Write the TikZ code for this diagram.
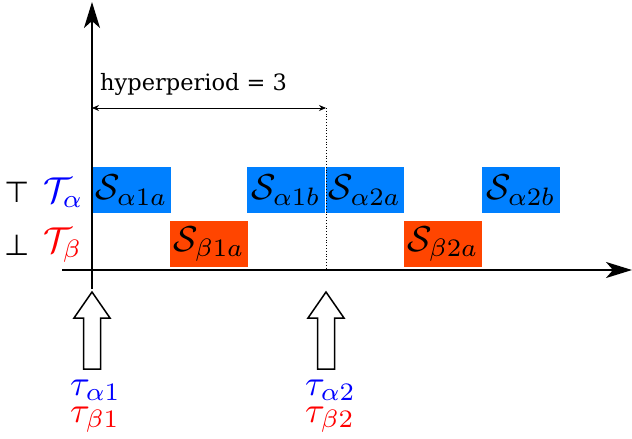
\documentclass[tikz,border=0pt]{standalone}
\usepackage{graphicx}
\usepackage{fontspec}
\newfontfamily\hpfont{DejaVu Serif}
\newfontfamily\symfont{DejaVu Sans}
\usetikzlibrary{arrows.meta}
\definecolor{boxblue}{RGB}{0,128,255}
\definecolor{boxred}{RGB}{255,69,0}
\definecolor{txtblue}{RGB}{0,0,255}
\definecolor{txtred}{RGB}{255,0,0}
\newcommand{\schedmath}[1]{\scalebox{3.6}{$#1$}}
\tikzset{
  slotbox/.style={minimum width=78pt, minimum height=46pt, inner sep=0pt, anchor=center},
  alphabox/.style={slotbox, fill=boxblue},
  betabox/.style={slotbox, fill=boxred},
  axisline/.style={line width=2pt, -{Stealth[length=26pt,width=16pt,inset=7pt]}},
  hollowarrow/.style={draw, line width=1.5pt, fill=white, line join=miter},
  mathlabel/.style={inner sep=0pt, anchor=base west},
  symlabel/.style={inner sep=0pt, anchor=base west, font=\symfont\fontsize{29}{32}\selectfont},
}
\begin{document}
\begin{tikzpicture}[x=1pt,y=-1pt]
\useasboundingbox (0,0) rectangle (632,439);
% boxes
\node[alphabox] (a1a) at (131.5,190) {\schedmath{\mathcal{S}_{\alpha 1a}}};
\node[alphabox] (a1b) at (286,190) {\schedmath{\mathcal{S}_{\alpha 1b}}};
\node[alphabox] (a2a) at (365,190) {\schedmath{\mathcal{S}_{\alpha 2a}}};
\node[alphabox] (a2b) at (521,190) {\schedmath{\mathcal{S}_{\alpha 2b}}};
\node[betabox] (b1a) at (209,244) {\schedmath{\mathcal{S}_{\beta 1a}}};
\node[betabox] (b2a) at (443,244) {\schedmath{\mathcal{S}_{\beta 2a}}};
% axes
\coordinate (ybot) at (92,289);
\coordinate (ytop) at (92,2);
\coordinate (xleft) at (62,270);
\coordinate (xright) at (632,270);
\draw[axisline] (ybot) -- (ytop);
\draw[axisline] (xleft) -- (xright);
% hyperperiod
\coordinate (hpl) at (92,108);
\coordinate (hpr) at (326,108);
\coordinate (hpb) at (326,270);
\draw[line width=0.8pt, {Stealth[length=7pt,width=6pt]}-{Stealth[length=7pt,width=6pt]}] (hpl) -- (hpr);
\draw[dotted, line width=0.8pt] (hpr) -- (hpb);
\node[inner sep=0pt, anchor=base west, font=\hpfont\fontsize{22.5}{26}\selectfont] (hp) at (100,90) {hyperperiod = 3};
% left labels
\node[symlabel] (top) at (4,202) {⊤};
\node[symlabel] (bot) at (4,255) {⊥};
\node[mathlabel, text=txtblue] (Ta) at (43,202) {\schedmath{\mathcal{T}_{\alpha}}};
\node[mathlabel, text=txtred] (Tb) at (43,252) {\schedmath{\mathcal{T}_{\beta}}};
% release arrows
\coordinate (r1) at (92,292);
\coordinate (r2) at (326,292);
\foreach \c in {r1,r2}{
  \draw[hollowarrow] (\c) -- ++(-18,26) -- ++(9.5,0) -- ++(0,51) -- ++(17,0) -- ++(0,-51) -- ++(9.5,0) -- cycle;
}
\node[mathlabel, text=txtblue] (ta1) at (70,395) {\schedmath{\tau_{\alpha 1}}};
\node[mathlabel, text=txtred] (tb1) at (70,422) {\schedmath{\tau_{\beta 1}}};
\node[mathlabel, text=txtblue] (ta2) at (305,395) {\schedmath{\tau_{\alpha 2}}};
\node[mathlabel, text=txtred] (tb2) at (305,422) {\schedmath{\tau_{\beta 2}}};
\end{tikzpicture}
\end{document}
